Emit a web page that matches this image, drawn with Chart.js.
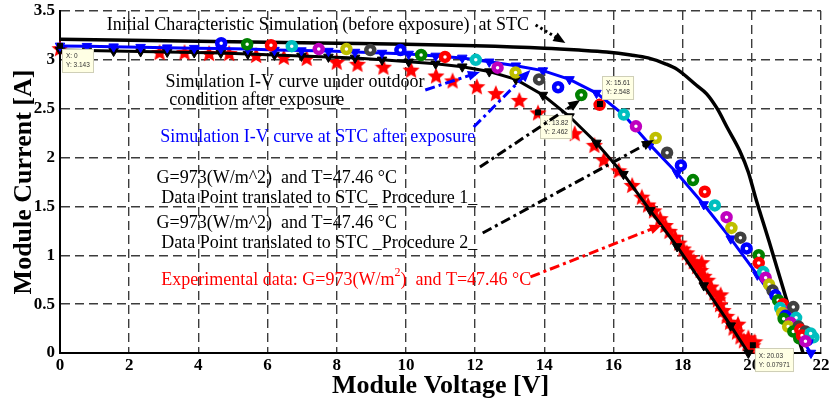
<!DOCTYPE html>
<html><head><meta charset="utf-8">
<script src="https://cdn.jsdelivr.net/npm/chart.js@4/dist/chart.umd.min.js"></script>
<style>html,body{margin:0;padding:0;background:#fff;}#wrap{width:831px;height:405px;}</style>
</head><body><div id="wrap"><canvas id="c" width="831" height="405"></canvas></div>
<script>
// ---------------- data ----------------
const xTickValues = [0, 2, 4, 6, 8, 10, 12, 14, 16, 18, 20, 22];
const xTickLabels = ['0', '2', '4', '6', '8', '10', '12', '14', '16', '18', '20', '22'];
const yTickValues = [0, 0.5, 1, 1.5, 2, 2.5, 3, 3.5];
const yTickLabels = ['0', '0.5', '1', '1.5', '2', '2.5', '3', '3.5'];

// Initial characteristic simulation (before exposure) at STC
const initV = [0, 2, 4, 6, 8, 10, 12, 14, 15, 15.8, 16.5, 17, 17.5, 17.85, 18.4, 18.7, 19.0, 19.3, 19.65, 19.9, 20.1, 20.5, 21.0, 21.48];
const initI = [3.21, 3.20, 3.19, 3.18, 3.17, 3.16, 3.145, 3.12, 3.10, 3.08, 3.05, 3.02, 2.96, 2.90, 2.74, 2.65, 2.50, 2.30, 2.07, 1.85, 1.60, 1.14, 0.55, 0.0];

// Simulation I-V curve at STC after exposure (blue)
const stcV = [0, 0.78, 1.55, 2.33, 3.10, 3.88, 4.65, 5.43, 6.20, 6.98, 7.76, 8.53, 9.31, 10.08, 10.86, 11.63, 12.41, 13.18, 13.96, 14.73, 15.51, 16.29, 17.06, 17.84, 18.61, 19.39, 20.16, 20.94, 21.71];
const stcI = [3.143, 3.14, 3.135, 3.13, 3.125, 3.12, 3.115, 3.11, 3.10, 3.095, 3.09, 3.08, 3.07, 3.06, 3.04, 3.02, 2.98, 2.94, 2.89, 2.80, 2.66, 2.44, 2.13, 1.84, 1.52, 1.17, 0.80, 0.40, 0.0];

// Simulation I-V curve under outdoor condition after exposure (black, triangles)
const outV = [0, 0.78, 1.55, 2.33, 3.10, 3.88, 4.65, 5.43, 6.20, 6.98, 7.76, 8.53, 9.31, 10.08, 10.86, 11.63, 12.41, 13.18, 13.96, 14.73, 15.51, 16.29, 17.06, 17.84, 18.61, 19.39, 19.9];
const outI = [3.10, 3.095, 3.09, 3.085, 3.08, 3.075, 3.07, 3.06, 3.05, 3.04, 3.03, 3.02, 3.00, 2.98, 2.96, 2.93, 2.88, 2.80, 2.64, 2.42, 2.15, 1.83, 1.46, 1.09, 0.69, 0.28, 0.0];

// Experimental data G=973 W/m2, T=47.46 C (red stars)
const expV = [0.0, 2.88, 3.6, 4.31, 4.89, 5.67, 6.47, 7.13, 8.0, 8.6, 9.35, 10.15, 10.87, 11.35, 12.05, 12.6, 13.28, 13.82, 14.88, 15.45, 15.72, 16.15, 16.54, 16.82, 17.0, 17.17, 17.35, 17.5, 17.62, 17.78, 17.9, 18.02, 18.12, 18.22, 18.32, 18.42, 18.52, 18.55, 18.62, 18.72, 18.82, 18.92, 19.02, 19.1, 19.08, 19.17, 19.27, 19.37, 19.47, 19.57, 19.6, 19.67, 19.77, 19.87, 19.9, 19.96, 20.03, 20.08];
const expI = [3.12, 3.08, 3.08, 3.07, 3.07, 3.05, 3.03, 3.02, 2.98, 2.96, 2.93, 2.90, 2.84, 2.79, 2.73, 2.66, 2.59, 2.462, 2.25, 2.13, 1.98, 1.87, 1.72, 1.60, 1.52, 1.46, 1.38, 1.31, 1.25, 1.19, 1.13, 1.07, 1.03, 0.98, 0.94, 0.89, 0.85, 0.93, 0.79, 0.75, 0.68, 0.62, 0.55, 0.60, 0.50, 0.44, 0.38, 0.32, 0.26, 0.22, 0.30, 0.17, 0.13, 0.10, 0.16, 0.07, 0.07971, 0.12];

// Data points translated to STC (procedures 1 and 2, coloured circles)
const trV = [4.66, 5.41, 6.1, 6.7, 7.48, 8.28, 8.97, 9.84, 10.44, 11.13, 12.02, 12.65, 13.17, 13.85, 14.4, 15.07, 15.6, 16.3, 16.65, 17.22, 17.55, 17.95, 18.3, 18.64, 18.93, 19.27, 19.41, 19.67, 19.85,
  20.2, 20.2, 20.33, 20.4, 20.5, 20.6, 20.68, 20.76, 20.9, 20.82, 21.14, 20.88, 21.2, 20.97, 20.92, 21.25, 21.28, 21.12, 21.05, 21.35, 21.3, 21.2, 21.4, 21.78, 21.5, 21.65, 21.55, 21.6, 21.37, 21.45, 21.7, 21.55];
const trI = [3.17, 3.16, 3.15, 3.14, 3.11, 3.11, 3.10, 3.10, 3.05, 3.03, 3.00, 2.92, 2.87, 2.80, 2.72, 2.64, 2.54, 2.44, 2.32, 2.20, 2.05, 1.92, 1.77, 1.65, 1.51, 1.39, 1.28, 1.18, 1.07,
  1.00, 0.92, 0.83, 0.77, 0.70, 0.64, 0.59, 0.54, 0.50, 0.46, 0.44, 0.41, 0.47, 0.38, 0.35, 0.30, 0.36, 0.31, 0.27, 0.27, 0.22, 0.22, 0.24, 0.16, 0.16, 0.19, 0.22, 0.13, 0.15, 0.18, 0.20, 0.12];

// Data tips
const tipV = [0, 15.61, 13.82, 20.03];
const tipI = [3.143, 2.548, 2.462, 0.07971];

// ---------------- styles / annotations ----------------
const palette = ['#0000ff', '#008000', '#ff0000', '#00bfbf', '#bf00bf', '#bfbf00', '#404040'];
const tipPlace = ['below', 'above', 'below', 'below'];
const noteFont = '18px "Liberation Serif", "Times New Roman", serif';
const notes = [
  {parts: [{t: 'Initial Characteristic Simulation (before exposure)  at STC'}], v: 1.35, i: 3.357, color: '#000'},
  {parts: [{t: 'Simulation I-V curve under outdoor'}], v: 3.05, i: 2.774, color: '#000'},
  {parts: [{t: 'condition after exposure'}], v: 3.16, i: 2.589, color: '#000'},
  {parts: [{t: 'Simulation I-V curve at STC after exposure'}], v: 2.90, i: 2.211, color: '#0000ff'},
  {parts: [{t: 'G=973(W/m^2)  and T=47.46 °C'}], v: 2.79, i: 1.791, color: '#000'},
  {parts: [{t: 'Data Point translated to STC_ Procedure 1_'}], v: 2.93, i: 1.586, color: '#000'},
  {parts: [{t: 'G=973(W/m^2)  and T=47.46 °C'}], v: 2.79, i: 1.330, color: '#000'},
  {parts: [{t: 'Data Point translated to STC _Procedure 2_'}], v: 2.93, i: 1.126, color: '#000'},
  {parts: [{t: 'Experimental data: G=973(W/m'}, {t: '2', sup: true}, {t: ')  and T=47.46 °C'}], v: 2.93, i: 0.747, color: '#ff0000'}
];
const dashDot = [10, 4, 3, 4];
const arrows = [
  {from: [13.75, 3.357], to: [14.61, 3.173], color: '#000', dash: [2.5, 3], width: 3},
  {from: [10.56, 2.692], to: [12.14, 2.876], color: '#0000ff', dash: dashDot, width: 3},
  {from: [11.96, 2.313], to: [13.60, 2.896], color: '#0000ff', dash: dashDot, width: 3},
  {from: [12.14, 1.904], to: [15.04, 2.589], color: '#000', dash: dashDot, width: 3},
  {from: [12.22, 1.228], to: [17.17, 2.180], color: '#000', dash: dashDot, width: 3},
  {from: [13.60, 0.778], to: [17.40, 1.310], color: '#ff0000', dash: dashDot, width: 3}
];

const pts = (xs, ys) => xs.map((x, k) => ({x: x, y: ys[k]}));

function starCanvas(size, color) {
  const c = document.createElement('canvas');
  c.width = c.height = size;
  const g = c.getContext('2d');
  g.fillStyle = color;
  g.beginPath();
  const R = size / 2, r = R * 0.45;
  for (let k = 0; k < 10; k++) {
    const a = -Math.PI / 2 + k * Math.PI / 5;
    const rr = k % 2 ? r : R;
    g.lineTo(R + rr * Math.cos(a), R + 1 + rr * Math.sin(a));
  }
  g.closePath();
  g.fill();
  return c;
}
const starImg = starCanvas(18, '#ff0000');

function drawArrowHead(ctx, x1, y1, x2, y2, color) {
  const ang = Math.atan2(y2 - y1, x2 - x1);
  const L = 12, W = 5;
  ctx.save();
  ctx.setLineDash([]);
  ctx.fillStyle = color;
  ctx.beginPath();
  ctx.moveTo(x2, y2);
  ctx.lineTo(x2 - L * Math.cos(ang) + W * Math.sin(ang), y2 - L * Math.sin(ang) - W * Math.cos(ang));
  ctx.lineTo(x2 - L * Math.cos(ang) - W * Math.sin(ang), y2 - L * Math.sin(ang) + W * Math.cos(ang));
  ctx.closePath();
  ctx.fill();
  ctx.restore();
}

const overlay = {
  id: 'overlay',
  afterDatasetsDraw(chart) {
    const {ctx, scales} = chart;
    const X = scales.x, Y = scales.y;
    ctx.save();
    // data tips
    ctx.font = '6.5px "Liberation Sans", Arial, sans-serif';
    tipV.forEach((v, k) => {
      const px = X.getPixelForValue(v), py = Y.getPixelForValue(tipI[k]);
      const l1 = 'X: ' + v, l2 = 'Y: ' + tipI[k];
      const w = Math.max(ctx.measureText(l1).width, ctx.measureText(l2).width) + 8;
      const h = 24;
      const bx = px + 2;
      const by = tipPlace[k] === 'below' ? py + 3 : py - 4 - h;
      ctx.fillStyle = '#ffffe4';
      ctx.fillRect(bx, by, w, h);
      ctx.strokeStyle = '#cfcfb8';
      ctx.lineWidth = 1;
      ctx.strokeRect(Math.round(bx) + 0.5, Math.round(by) + 0.5, Math.round(w) - 1, h - 1);
      ctx.fillStyle = '#333';
      ctx.textBaseline = 'middle';
      ctx.textAlign = 'left';
      ctx.fillText(l1, bx + 4, by + 7.5);
      ctx.fillText(l2, bx + 4, by + 16.5);
      ctx.fillStyle = '#000';
      ctx.fillRect(px - 3, py - 3, 6, 6);
    });
    // text notes
    ctx.textBaseline = 'middle';
    ctx.textAlign = 'left';
    notes.forEach(n => {
      let x = X.getPixelForValue(n.v);
      const y = Y.getPixelForValue(n.i);
      ctx.fillStyle = n.color;
      n.parts.forEach(p => {
        if (p.sup) {
          ctx.font = '12px "Liberation Serif", serif';
          ctx.fillText(p.t, x, y - 7);
        } else {
          ctx.font = noteFont;
          ctx.fillText(p.t, x, y);
        }
        x += ctx.measureText(p.t).width;
      });
    });
    // arrows
    arrows.forEach(a => {
      const x1 = X.getPixelForValue(a.from[0]), y1 = Y.getPixelForValue(a.from[1]);
      const x2 = X.getPixelForValue(a.to[0]), y2 = Y.getPixelForValue(a.to[1]);
      const ang = Math.atan2(y2 - y1, x2 - x1);
      ctx.strokeStyle = a.color;
      ctx.lineWidth = a.width;
      ctx.setLineDash(a.dash);
      ctx.beginPath();
      ctx.moveTo(x1, y1);
      ctx.lineTo(x2 - 8 * Math.cos(ang), y2 - 8 * Math.sin(ang));
      ctx.stroke();
      drawArrowHead(ctx, x1, y1, x2, y2, a.color);
    });
    ctx.restore();
  }
};

const tickFont = {family: '"Liberation Serif", "Times New Roman", serif', size: 17, weight: 'bold'};
const titleFont = {family: '"Liberation Serif", "Times New Roman", serif', size: 26, weight: 'bold'};

new Chart(document.getElementById('c'), {
  type: 'scatter',
  data: {
    datasets: [
      {label: 'Data Point translated to STC', data: pts(trV, trI), showLine: false, pointStyle: 'circle',
       pointRadius: 4, pointBorderWidth: 4.5, pointBackgroundColor: '#ffffff',
       pointBorderColor: trV.map((_, k) => palette[k % palette.length]), order: 1, clip: false},
      {label: 'Simulation I-V curve at STC after exposure', data: pts(stcV, stcI), showLine: true,
       borderColor: '#0000ff', borderWidth: 3, pointStyle: 'triangle', rotation: 180, pointRadius: 5.5,
       pointBackgroundColor: '#0000ff', pointBorderColor: '#0000ff', pointBorderWidth: 1, order: 2, clip: false},
      {label: 'Simulation I-V curve under outdoor condition', data: pts(outV, outI), showLine: true,
       borderColor: '#000000', borderWidth: 3, pointStyle: 'triangle', rotation: 180, pointRadius: 5.5,
       pointBackgroundColor: '#000000', pointBorderColor: '#000000', pointBorderWidth: 1, order: 3, clip: false},
      {label: 'Initial Characteristic Simulation', data: pts(initV, initI), showLine: true,
       borderColor: '#000000', borderWidth: 3.5, pointRadius: 0, cubicInterpolationMode: 'monotone', order: 4, clip: false},
      {label: 'Experimental data', data: pts(expV, expI), showLine: false, pointStyle: starImg,
       pointRadius: 9, order: 5, clip: false}
    ]
  },
  options: {
    responsive: false,
    animation: false,
    devicePixelRatio: 1,
    layout: {padding: {left: 0, right: 6, top: 11, bottom: 0}},
    plugins: {legend: {display: false}, tooltip: {enabled: false}},
    events: [],
    scales: {
      x: {
        type: 'linear', min: 0, max: 22,
        afterBuildTicks: s => { s.ticks = xTickValues.map(v => ({value: v})); },
        afterFit: s => { s.height = 52; s.paddingLeft = 0; s.paddingRight = 0; },
        ticks: {font: tickFont, color: '#000', padding: 2, autoSkip: false, maxRotation: 0,
                callback: v => xTickLabels[xTickValues.indexOf(v)]},
        grid: {color: '#3c3c3c', lineWidth: 1.4, drawTicks: false},
        border: {display: true, color: '#000', width: 2, dash: [9, 5]},
        title: {display: true, text: 'Module Voltage [V]', font: titleFont, color: '#000', padding: {top: 0, bottom: 3}}
      },
      y: {
        type: 'linear', min: 0, max: 3.5,
        afterBuildTicks: s => { s.ticks = yTickValues.map(v => ({value: v})); },
        afterFit: s => { s.width = 60; s.paddingTop = 0; s.paddingBottom = 0; },
        ticks: {font: tickFont, color: '#000', padding: 5, autoSkip: false,
                callback: v => yTickLabels[yTickValues.indexOf(v)]},
        grid: {color: '#3c3c3c', lineWidth: 1.4, drawTicks: false},
        border: {display: true, color: '#000', width: 2, dash: [9, 5]},
        title: {display: true, text: 'Module Current [A]', font: titleFont, color: '#000', padding: {top: 9, bottom: 0}}
      }
    }
  },
  plugins: [overlay]
});
</script></body></html>
